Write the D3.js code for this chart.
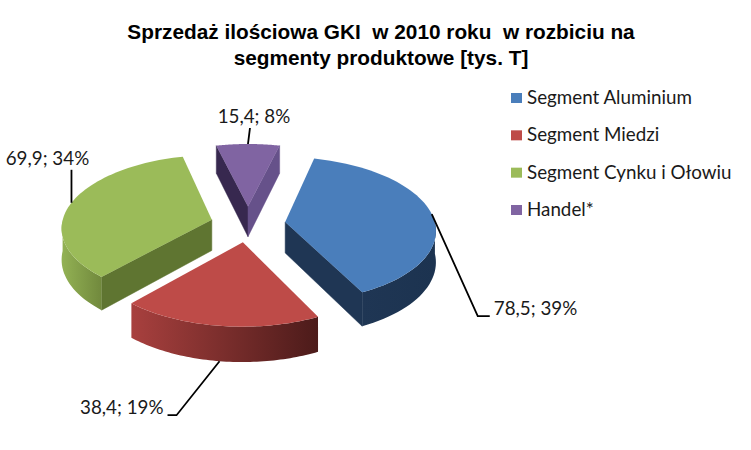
<!DOCTYPE html>
<html>
<head>
<meta charset="utf-8">
<script src="https://cdn.jsdelivr.net/npm/d3@7"></script>
<style>
  html, body { margin: 0; padding: 0; background: #fff; }
  text { font-family: Lato, sans-serif; font-size: 18.8px; fill: #1a1a1a; white-space: pre; }
  .title { font-family: "Liberation Sans", Arial, sans-serif; font-weight: bold; font-size: 20.8px; fill: #000; }
</style>
</head>
<body>
<svg id="chart" width="751" height="450"></svg>
<script>
const titleLines = ['Sprzedaż ilościowa GKI  w 2010 roku  w rozbiciu na', 'segmenty produktowe [tys. T]'];
const categories = ['Segment Aluminium', 'Segment Miedzi', 'Segment Cynku i Ołowiu', 'Handel*'];
const values = [78.5, 38.4, 69.9, 15.4];
const percents = [39, 19, 34, 8];
const topColors = ['#4A7EBB', '#BE4B48', '#9BBB59', '#8064A2'];

const svg = d3.select('#chart');
const defs = svg.append('defs');

// pseudo 3D pie settings
const center = { x: 248, y: 224 };
const radiusX = 150, radiusY = 72, depth = 31;
const explode = 0.25, perspective = 0.1;
const firstAngle = 13.7 * Math.PI / 180;

// side colours, rim is [left, right] of a horizontal gradient
const sides = [
  { rim: ['#1F3654', '#1C3350'], start: '#1F3654', end: '#1F3654' },
  { rim: ['#A8403E', '#4C1B1A'], start: '#7A2E2D', end: '#7A2E2D' },
  { rim: ['#93B254', '#71893D'], start: '#5F7531', end: '#5F7531' },
  { rim: ['#4A3A68', '#4A3A68'], start: '#37284F', end: '#66518A' }
];

// leader line bends and label anchors, relative to the slice's rim point
const leaders = [
  { bend: [46, 102], tail: [58, 102], text: [62, 101], anchor: 'start' },
  { bend: [-43, 54], tail: [-52, 54], text: [-56, 53], anchor: 'end' },
  { bend: [0, -33], tail: [0, -33], text: [-24, -38], anchor: 'middle' },
  { bend: [2, -16], tail: [2, -16], text: [6, -21], anchor: 'middle' }
];

const pie = d3.pie().sort(null).startAngle(firstAngle).endAngle(firstAngle + 2 * Math.PI);
const slices = pie(values);

// world point (r from the slice apex at angle a) to screen point
function project(slice, a, r, drop) {
  const mid = (slice.startAngle + slice.endAngle) / 2;
  const wx = explode * Math.sin(mid) + r * Math.sin(a);
  const wv = explode * Math.cos(mid) + r * Math.cos(a);
  const s = 1 / (1 + perspective * wv);
  return [
    center.x + radiusX * wx * s,
    center.y - radiusY * wv * s + (drop ? depth * s : 0)
  ];
}

const line = d3.line();

function rimAngles(slice) {
  const n = 60;
  return d3.range(n + 1).map(i => slice.startAngle + (slice.endAngle - slice.startAngle) * i / n);
}

const plot = svg.append('g');

slices.forEach((slice, i) => {
  const g = plot.append('g');
  const angles = rimAngles(slice);
  const apexTop = project(slice, 0, 0, false);
  const apexLow = project(slice, 0, 0, true);

  // radial walls, only the ones facing the viewer
  [[slice.startAngle, sides[i].start, 1], [slice.endAngle, sides[i].end, -1]].forEach(([a, color, dir]) => {
    const pts = [apexTop, project(slice, a, 1, false), project(slice, a, 1, true), apexLow];
    if (d3.polygonArea(pts) * dir > 0) {
      g.append('path')
        .attr('d', line(pts) + 'Z')
        .attr('fill', color)
        .attr('stroke', color)
        .attr('stroke-width', 0.5);
    }
  });

  // outer wall, front half only
  const front = angles.filter(a => Math.cos(a) < 0.02);
  if (front.length > 1) {
    const outline = front.map(a => project(slice, a, 1, false))
      .concat(front.slice().reverse().map(a => project(slice, a, 1, true)));
    const xs = d3.extent(outline, p => p[0]);
    const gradId = 'rim' + i;
    const grad = defs.append('linearGradient')
      .attr('id', gradId)
      .attr('gradientUnits', 'userSpaceOnUse')
      .attr('x1', xs[0]).attr('x2', xs[1]).attr('y1', 0).attr('y2', 0);
    grad.append('stop').attr('offset', 0).attr('stop-color', sides[i].rim[0]);
    grad.append('stop').attr('offset', 1).attr('stop-color', sides[i].rim[1]);
    g.append('path')
      .attr('d', line(outline) + 'Z')
      .attr('fill', `url(#${gradId})`);
  }

  // top face
  const top = [apexTop].concat(angles.map(a => project(slice, a, 1, false)));
  g.append('path')
    .attr('d', line(top) + 'Z')
    .attr('fill', topColors[i]);
});

// leaders and data labels
slices.forEach((slice, i) => {
  const mid = (slice.startAngle + slice.endAngle) / 2;
  const hidden = Math.cos(mid) < -0.5;
  const from = project(slice, mid, 1, hidden);
  const l = leaders[i];
  const pts = [from, [from[0] + l.bend[0], from[1] + l.bend[1]], [from[0] + l.tail[0], from[1] + l.tail[1]]];
  svg.append('path')
    .attr('d', line(pts))
    .attr('fill', 'none')
    .attr('stroke', '#000')
    .attr('stroke-width', 1.8);
  svg.append('text')
    .attr('x', from[0] + l.text[0])
    .attr('y', from[1] + l.text[1])
    .attr('text-anchor', l.anchor)
    .text(`${String(values[i]).replace('.', ',')}; ${percents[i]}%`);
});

// title
svg.selectAll('.title')
  .data(titleLines)
  .join('text')
  .attr('class', 'title')
  .attr('x', 381)
  .attr('y', (d, i) => 39 + i * 26)
  .attr('text-anchor', 'middle')
  .text(d => d);

// legend
const legendY = d3.scalePoint().domain(categories).range([98, 210]);
const legend = svg.selectAll('.legend')
  .data(categories)
  .join('g')
  .attr('class', 'legend')
  .attr('transform', d => `translate(511,${legendY(d)})`);
legend.append('rect')
  .attr('y', -5)
  .attr('width', 11)
  .attr('height', 10)
  .attr('fill', (d, i) => topColors[i]);
legend.append('text')
  .attr('x', 16)
  .attr('y', 6)
  .text(d => d);
</script>
</body>
</html>
